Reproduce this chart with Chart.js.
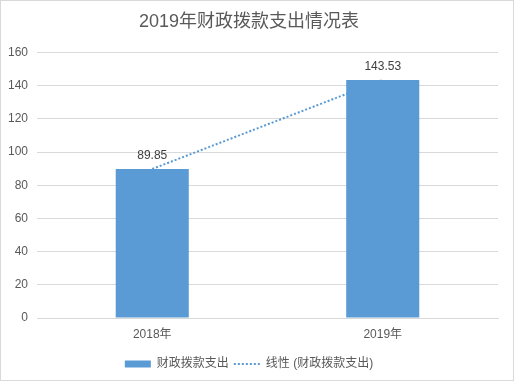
<!DOCTYPE html>
<html>
<head>
<meta charset="utf-8">
<script src="https://cdn.jsdelivr.net/npm/chart.js@4/dist/chart.umd.min.js"></script>
<style>
  html, body { margin: 0; padding: 0; background: #fff; }
  #wrap { width: 514px; height: 381px; box-sizing: border-box; border: 1px solid #d9d9d9; position: relative; }
  canvas { position: absolute; left: -1px; top: -1px; }
</style>
</head>
<body>
<div id="wrap"><canvas id="c" width="514" height="381"></canvas></div>
<script>
const titleText = '2019年财政拨款支出情况表';
const categories = ['2018年', '2019年'];
const spending = [89.85, 143.53];
const trend = [89.85, 143.53];
const barLabel = '财政拨款支出';
const trendLabel = '线性 (财政拨款支出)';
const yTicks = [0, 20, 40, 60, 80, 100, 120, 140, 160];

const FONT = '"Liberation Sans", "Noto Sans CJK SC", sans-serif';
const BLUE = '#5b9bd5';
const GRID = '#d9d9d9';
const TXT = '#595959';

const valueLabels = {
  id: 'valueLabels',
  afterDatasetsDraw(chart) {
    const ctx = chart.ctx;
    const meta = chart.getDatasetMeta(0);
    ctx.save();
    ctx.font = '12px ' + FONT;
    ctx.fillStyle = '#404040';
    ctx.textAlign = 'center';
    ctx.textBaseline = 'middle';
    meta.data.forEach((el, i) => {
      ctx.fillText(spending[i].toFixed(2), el.x, el.y - 13);
    });
    ctx.restore();
  }
};

new Chart(document.getElementById('c'), {
  data: {
    labels: categories,
    datasets: [
      {
        type: 'bar',
        label: barLabel,
        data: spending,
        backgroundColor: BLUE,
        borderWidth: 0,
        categoryPercentage: 1,
        barPercentage: 0.317,
        order: 1
      },
      {
        type: 'line',
        label: trendLabel,
        data: trend,
        borderColor: BLUE,
        borderWidth: 2,
        borderDash: [2, 2],
        pointRadius: 0,
        fill: false,
        order: 2
      }
    ]
  },
  options: {
    responsive: false,
    animation: false,
    layout: { padding: { left: 0, right: 16, top: 0, bottom: 1 } },
    plugins: {
      title: {
        display: true,
        text: titleText,
        color: TXT,
        font: { family: FONT, size: 18, weight: 'normal' },
        padding: { top: 11, bottom: 20 }
      },
      legend: {
        position: 'bottom',
        labels: {
          color: TXT,
          font: { family: FONT, size: 12 },
          usePointStyle: true,
          pointStyleWidth: 26,
          boxHeight: 7,
          padding: 5,
          generateLabels() {
            return [
              { text: barLabel, fillStyle: BLUE, strokeStyle: BLUE, lineWidth: 0, pointStyle: 'rect', datasetIndex: 0, fontColor: TXT },
              { text: trendLabel, fillStyle: 'rgba(0,0,0,0)', strokeStyle: BLUE, lineWidth: 2, lineDash: [2, 2], pointStyle: 'line', datasetIndex: 1, fontColor: TXT }
            ];
          }
        }
      },
      tooltip: { enabled: false }
    },
    scales: {
      x: {
        grid: { display: false, drawTicks: false },
        border: { display: true, color: GRID, width: 1 },
        ticks: { color: TXT, font: { family: FONT, size: 12 }, padding: 9 },
        afterFit(s) { s.height = 35; }
      },
      y: {
        min: 0,
        max: 160,
        afterBuildTicks(s) { s.ticks = yTicks.map(v => ({ value: v })); },
        grid: { color: GRID, drawTicks: false },
        border: { display: false },
        ticks: { color: TXT, font: { family: FONT, size: 12 }, padding: 9 },
        afterFit(s) { s.width = 37; }
      }
    }
  },
  plugins: [valueLabels]
});
</script>
</body>
</html>
